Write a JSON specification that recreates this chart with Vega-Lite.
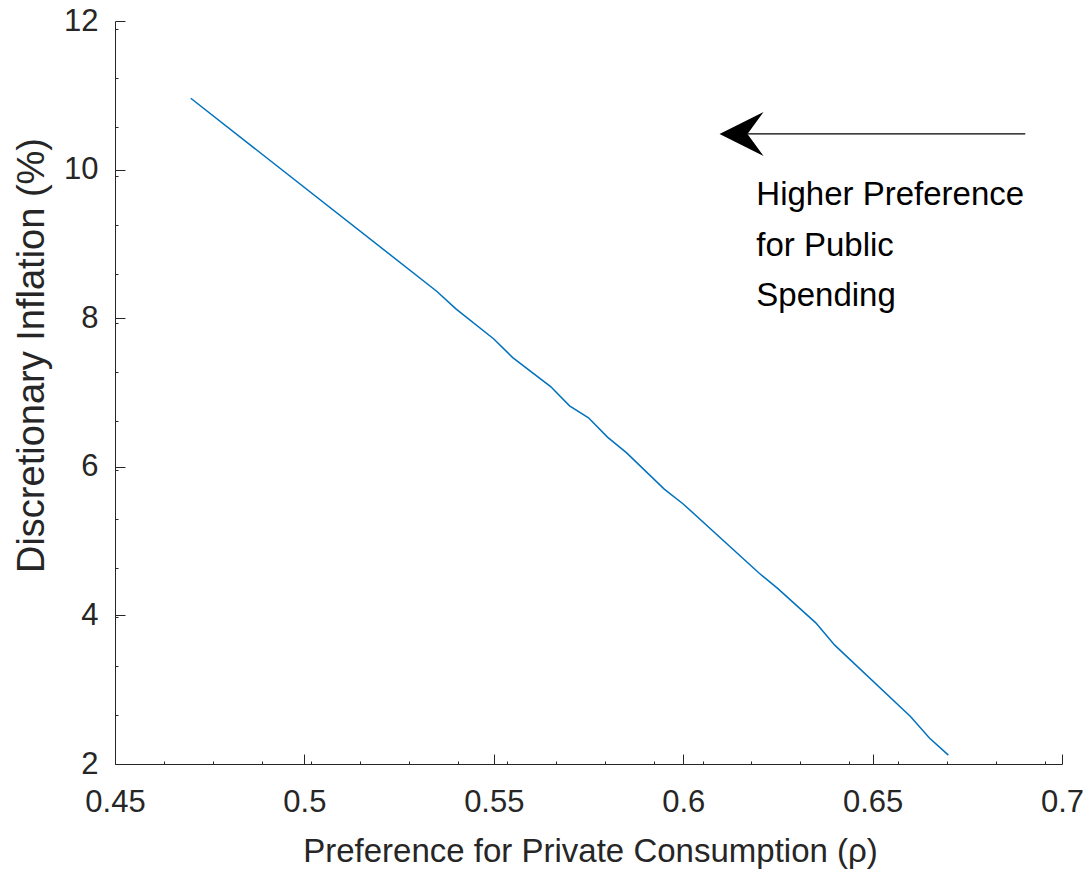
{
  "$schema": "https://vega.github.io/schema/vega-lite/v6.json",
  "width": 947,
  "height": 743,
  "autosize": {"type": "none"},
  "padding": {"left": 115, "top": 21, "right": 30, "bottom": 106},
  "background": "white",
  "config": {
    "view": {"stroke": null},
    "font": "Liberation Sans",
    "axis": {
      "grid": false,
      "domainColor": "#262626",
      "tickColor": "#262626",
      "labelColor": "#262626",
      "titleColor": "#262626",
      "labelFont": "Liberation Sans",
      "titleFont": "Liberation Sans",
      "titleFontWeight": "normal"
    }
  },
  "datasets": {
    "curve": [
      {"rho": 0.47, "inflation": 10.96},
      {"rho": 0.535, "inflation": 8.36},
      {"rho": 0.54, "inflation": 8.125},
      {"rho": 0.55, "inflation": 7.72},
      {"rho": 0.555, "inflation": 7.47},
      {"rho": 0.565, "inflation": 7.08},
      {"rho": 0.57, "inflation": 6.82},
      {"rho": 0.575, "inflation": 6.66},
      {"rho": 0.58, "inflation": 6.4},
      {"rho": 0.585, "inflation": 6.19},
      {"rho": 0.595, "inflation": 5.7},
      {"rho": 0.6, "inflation": 5.5},
      {"rho": 0.62, "inflation": 4.57},
      {"rho": 0.625, "inflation": 4.36},
      {"rho": 0.635, "inflation": 3.9},
      {"rho": 0.64, "inflation": 3.6},
      {"rho": 0.66, "inflation": 2.64},
      {"rho": 0.665, "inflation": 2.35},
      {"rho": 0.67, "inflation": 2.12}
    ],
    "one": [{"id": 1}]
  },
  "resolve": {"axis": {"x": "independent", "y": "independent"}},
  "layer": [
    {
      "data": {"name": "curve"},
      "mark": {"type": "line", "color": "#0072BD", "strokeWidth": 1.5},
      "encoding": {
        "x": {
          "field": "rho",
          "type": "quantitative",
          "scale": {"domain": [0.45, 0.7], "nice": false, "zero": false},
          "axis": {
            "orient": "bottom",
            "values": [0.45, 0.5, 0.55, 0.6, 0.65, 0.7],
            "format": "~g",
            "ticks": false,
            "tickSize": 0,
            "labelPadding": 47,
            "labelBaseline": "alphabetic",
            "labelFontSize": 31,
            "labelFlush": false,
            "labelOverlap": false,
            "domain": true,
            "domainWidth": 1,
            "title": "Preference for Private Consumption (ρ)",
            "titleFontSize": 33,
            "titleX": 475,
            "titleY": 97,
            "titleBaseline": "alphabetic",
            "titleAlign": "center"
          }
        },
        "y": {
          "field": "inflation",
          "type": "quantitative",
          "scale": {"domain": [2, 12], "nice": false, "zero": false},
          "axis": {
            "orient": "left",
            "values": [2, 4, 6, 8, 10, 12],
            "ticks": false,
            "tickSize": 0,
            "labelPadding": 17,
            "labelFontSize": 31,
            "labelBaseline": "middle",
            "labelAlign": "right",
            "labelFlush": false,
            "labelOverlap": false,
            "domain": true,
            "domainWidth": 1,
            "title": "Discretionary Inflation (%)",
            "titleFontSize": 38,
            "titleAngle": 270,
            "titleX": -72,
            "titleY": 334,
            "titleAlign": "center",
            "titleBaseline": "alphabetic"
          }
        }
      }
    },
    {
      "data": {"name": "one"},
      "mark": {"type": "rule", "color": "black", "strokeWidth": 1.3},
      "encoding": {
        "x": {
          "datum": 0.617,
          "type": "quantitative",
          "axis": {
            "orient": "bottom",
            "values": [0.45, 0.5, 0.55, 0.6, 0.65, 0.7],
            "labels": false,
            "domain": false,
            "ticks": true,
            "tickSize": -10,
            "tickWidth": 1,
            "title": null
          }
        },
        "x2": {"datum": 0.6903},
        "y": {
          "datum": 10.48,
          "type": "quantitative",
          "axis": {
            "orient": "left",
            "values": [2, 4, 6, 8, 10, 12],
            "labels": false,
            "domain": false,
            "ticks": true,
            "tickSize": -10,
            "tickWidth": 1,
            "title": null
          }
        }
      }
    },
    {
      "data": {"name": "one"},
      "mark": {
        "type": "point",
        "shape": "M -1 0 L 1 -1 L 0.27 0 L 1 1 Z",
        "filled": true,
        "color": "black",
        "opacity": 1,
        "size": 1936
      },
      "encoding": {
        "x": {
          "datum": 0.6154,
          "type": "quantitative",
          "axis": {
            "orient": "bottom",
            "values": [0.462925, 0.47585, 0.488775, 0.5017, 0.514625, 0.52755, 0.540475, 0.5534, 0.566325, 0.57925, 0.592175, 0.6051, 0.618025, 0.63095, 0.643875, 0.6568, 0.669725, 0.68265, 0.695575],
            "labels": false,
            "domain": false,
            "ticks": true,
            "tickSize": -3,
            "tickWidth": 1,
            "title": null
          }
        },
        "y": {
          "datum": 10.48,
          "type": "quantitative",
          "axis": {
            "orient": "left",
            "values": [2.6592, 3.3184, 3.9776, 4.6368, 5.296, 5.9552, 6.6144, 7.2736, 7.9328, 8.592, 9.2512, 9.9104, 10.5696, 11.2288, 11.888],
            "labels": false,
            "domain": false,
            "ticks": true,
            "tickSize": -3,
            "tickWidth": 1,
            "title": null
          }
        }
      }
    },
    {
      "data": {"name": "one"},
      "mark": {"type": "text", "text": "Higher Preference", "align": "left", "baseline": "alphabetic", "fontSize": 33, "color": "black", "font": "Liberation Sans"},
      "encoding": {
        "x": {"datum": 0.6193, "type": "quantitative", "axis": null},
        "y": {"datum": 9.525, "type": "quantitative", "axis": null}
      }
    },
    {
      "data": {"name": "one"},
      "mark": {"type": "text", "text": "for Public", "align": "left", "baseline": "alphabetic", "fontSize": 33, "color": "black", "font": "Liberation Sans"},
      "encoding": {
        "x": {"datum": 0.6193, "type": "quantitative", "axis": null},
        "y": {"datum": 8.838, "type": "quantitative", "axis": null}
      }
    },
    {
      "data": {"name": "one"},
      "mark": {"type": "text", "text": "Spending", "align": "left", "baseline": "alphabetic", "fontSize": 33, "color": "black", "font": "Liberation Sans"},
      "encoding": {
        "x": {"datum": 0.6193, "type": "quantitative", "axis": null},
        "y": {"datum": 8.166, "type": "quantitative", "axis": null}
      }
    }
  ]
}
